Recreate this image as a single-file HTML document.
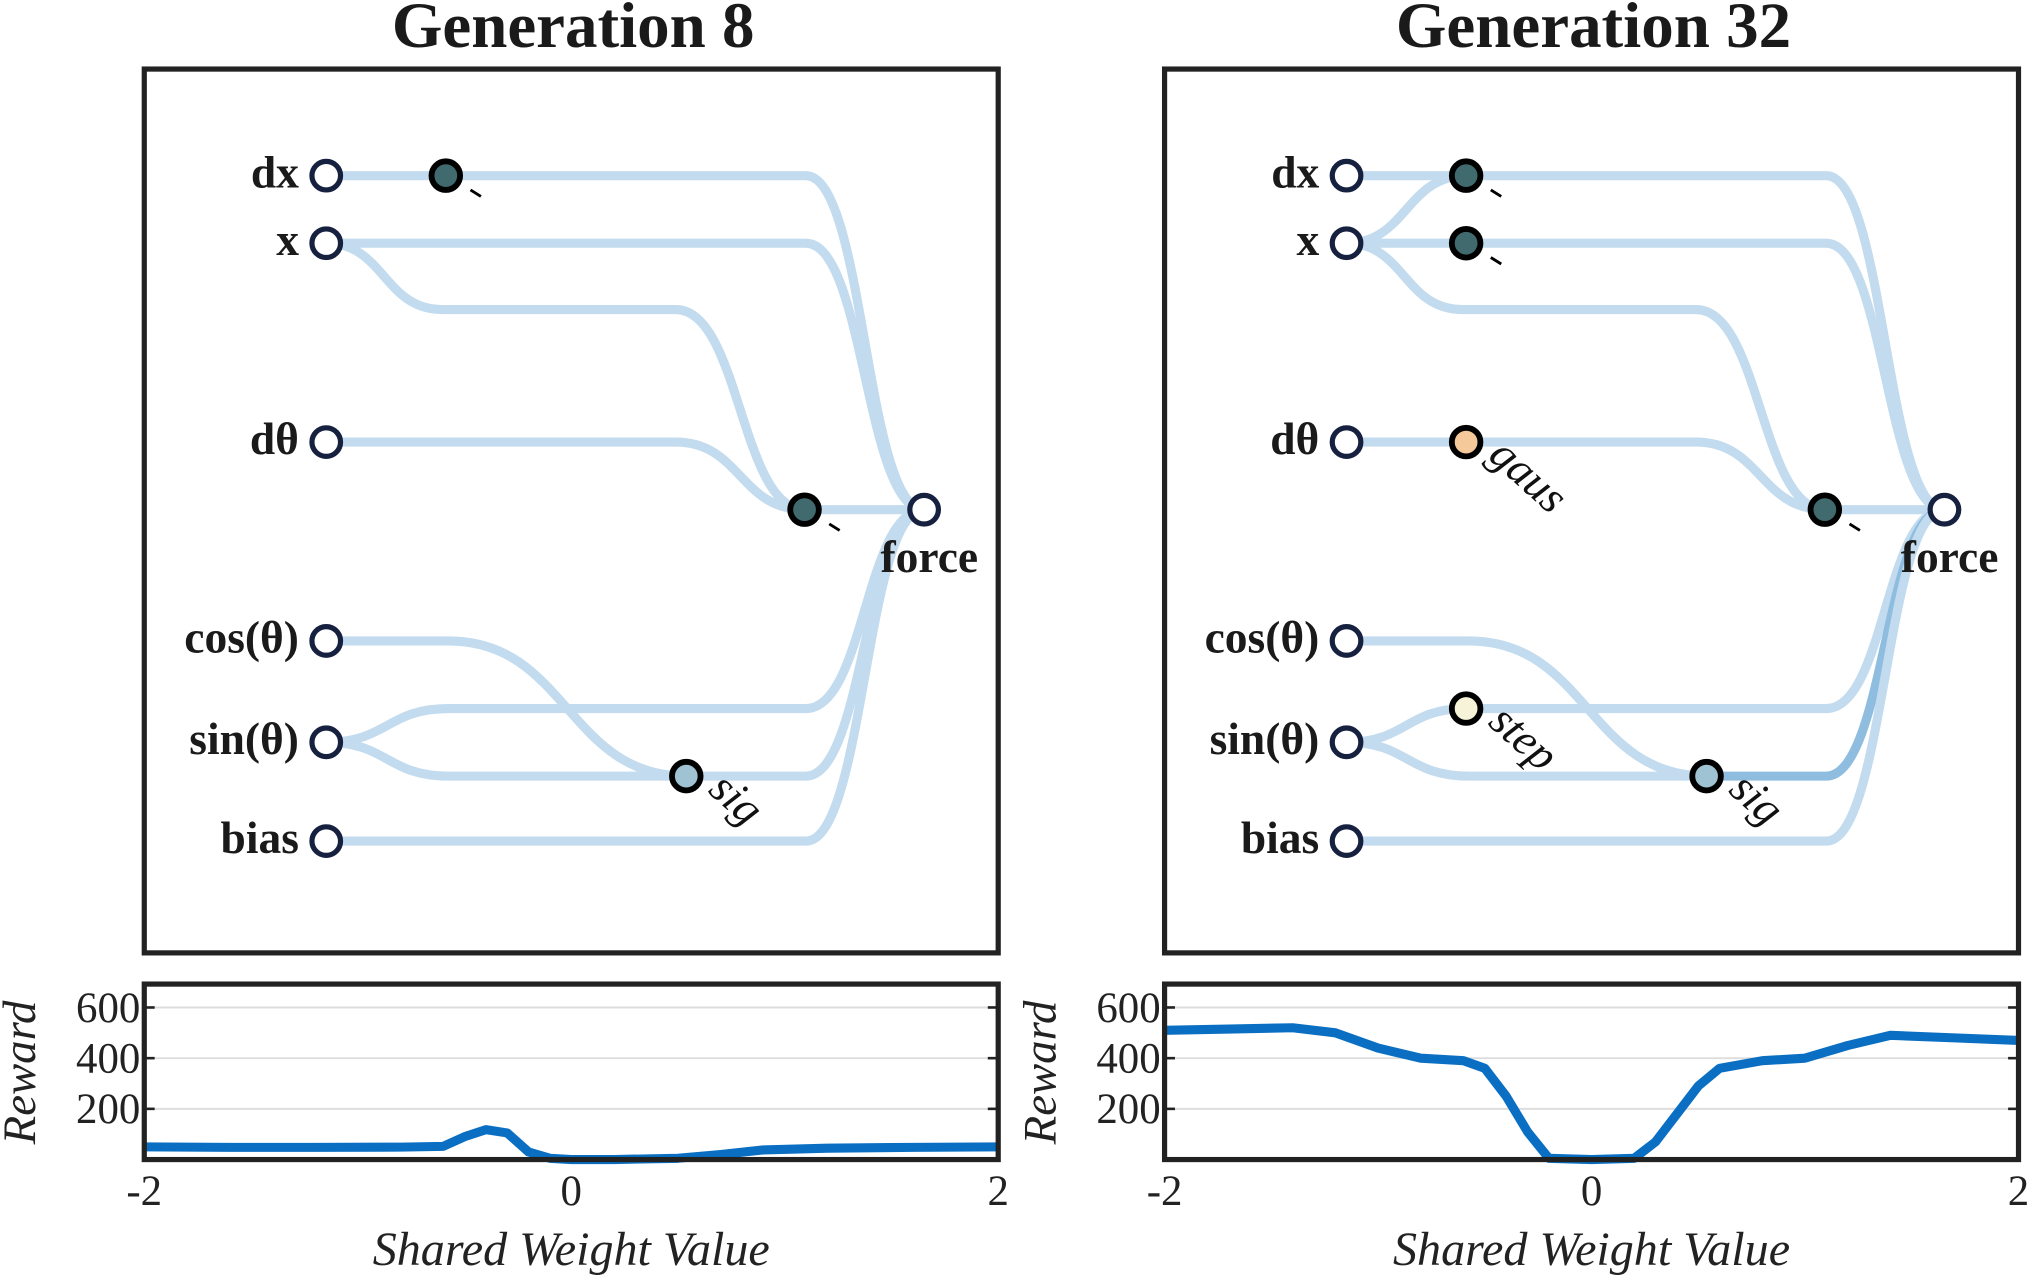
<!DOCTYPE html>
<html><head><meta charset="utf-8">
<style>html,body{margin:0;padding:0;background:#fff}svg{display:block}</style></head>
<body>
<svg id="fig" width="2038" height="1278" viewBox="0 0 1568 983" xmlns="http://www.w3.org/2000/svg" font-family="'Liberation Serif', serif"></svg>
<script>
const xs = [-2,-1.6,-1.2,-0.8,-0.6,-0.5,-0.4,-0.3,-0.2,-0.1,0,0.2,0.5,0.7,0.9,1.2,1.6,2];
const gen8 = [50,48,48,49,52,90,118,105,30,5,0,0,5,20,38,45,48,50];
const xs32 = [-2,-1.7,-1.4,-1.2,-1,-0.8,-0.6,-0.5,-0.4,-0.3,-0.2,0,0.2,0.3,0.4,0.5,0.6,0.8,1,1.2,1.4,1.7,2];
const gen32 = [510,515,520,500,440,400,390,360,250,110,5,0,5,70,180,290,360,390,400,450,490,480,470];
const yTicks = [200,400,600];
const xTicks = [-2,0,2];
const S='http://www.w3.org/2000/svg', svg=document.getElementById('fig');
function el(t,a,p){const e=document.createElementNS(S,t);for(const k in a)e.setAttribute(k,a[k]);(p||svg).appendChild(e);return e;}
function txt(s,a,p){const e=el('text',a,p);e.textContent=s;return e;}
const edgeC='#c2dbee';
function seg(x1,y1,x2,y2){const d=(x2-x1)/2;return `M${x1},${y1} C${x1+d},${y1} ${x2-d},${y2} ${x2},${y2}`;}
function drawPanel(off,title,hidden,edges){
  const g=el('g',{});
  
  
  const t=txt(title,{x:111+off+330,y:36,'text-anchor':'middle','font-size':50,'font-weight':'bold',fill:'#1a1a1a'},g);
  
  
  const b=el('rect',{x:111+off,y:53,width:657,height:680,fill:'none',stroke:'#222',"stroke-width":4},g);
  
  
  const eg=el('g',{fill:'none',stroke:edgeC,'stroke-width':7,'stroke-linecap':'round'},g);
  
  
  edges.forEach(e=>{let d='';for(let i=0;i<e.length-1;i++){const a=e[i],c=e[i+1];d+=seg(a[0]+off,a[1],c[0]+off,c[1]).replace(i?/^M[^C]*/:/$^/,'')+' ';}
    const p=el('path',{d:d,stroke:e.dark?'#8fbde0':edgeC},eg);
    
    });
  const inputs=[['dx',135],['x',187],['dθ',340],['cos(θ)',493],['sin(θ)',571],['bias',647]];
  inputs.forEach(([n,y])=>{
    const c=el('circle',{cx:251+off,cy:y,r:11,fill:'#fff',stroke:'#16203f','stroke-width':4},g);
    
    
    const l=txt(n,{x:230+off,y:y+9,'text-anchor':'end','font-size':35,'font-weight':'bold',fill:'#1a1a1a'},g);
    
    
  });
  hidden.forEach(h=>{
    const c=el('circle',{cx:h[0]+off,cy:h[1],r:11,fill:h[2],stroke:'#000','stroke-width':4.5},g);
    
    
    if(h[3]==='neg'){const l=el('line',{x1:h[0]+off+19,y1:h[1]+11,x2:h[0]+off+27,y2:h[1]+16,stroke:'#000','stroke-width':2.2},g);
      
      }
    else{const l=txt(h[3],{x:0,y:0,'font-size':35,'font-style':'italic',fill:'#111',transform:`translate(${h[0]+off+16},${h[1]+12}) rotate(42)`},g);
      
      }
  });
  const o=el('circle',{cx:711+off,cy:392,r:11,fill:'#fff',stroke:'#16203f','stroke-width':4},g);
  
  
  const ol=txt('force',{x:715+off,y:440,'text-anchor':'middle','font-size':35,'font-weight':'bold',fill:'#1a1a1a'},g);
  
  
}
const O=[711,392];
drawPanel(0,'Generation 8',[[343,135,'#416a6e','neg'],[619,392,'#416a6e','neg'],[528,597,'#9fc3d3','sig']],[
 [[251,135],[343,135]],[[343,135],[620,135],O],[[251,187],[620,187],O],
 [[251,187],[340,238],[520,238],[619,392]],[[251,340],[520,340],[619,392]],[[619,392],O],
 [[251,493],[345,493],[528,597]],[[251,571],[345,545],[620,545],O],[[251,571],[345,597],[528,597]],
 [[528,597],[620,597],O],[[251,647],[620,647],O]]);
const s2=[[528,597],[620,597],O];s2.dark=true;
drawPanel(785,'Generation 32',[[343,135,'#416a6e','neg'],[343,187,'#416a6e','neg'],[343,340,'#f6c99b','gaus'],[343,545,'#f6f3d8','step'],[619,392,'#416a6e','neg'],[528,597,'#9fc3d3','sig']],[
 [[251,135],[343,135]],[[251,187],[343,135]],[[251,187],[343,187]],[[343,135],[620,135],O],[[343,187],[620,187],O],
 [[251,187],[340,238],[520,238],[619,392]],[[251,340],[343,340],[520,340],[619,392]],[[619,392],O],
 [[251,493],[345,493],[528,597]],[[251,571],[343,545],[620,545],O],[[251,571],[345,597],[528,597]],
 s2,[[251,647],[620,647],O]]);

function reward(off,X,Y,name){
  const g=el('g',{});
  
  
  const x0=111+off,w=657,y0=757,h=135;
  const sx=v=>x0+(v+2)/4*w, sy=v=>y0+h-v*0.195;
  yTicks.forEach(t=>{const l=el('line',{x1:x0,x2:x0+w,y1:sy(t),y2:sy(t),stroke:'#ddd','stroke-width':1.5},g);
    
    
    const tl=txt(t,{x:x0-3,y:sy(t)+11,'text-anchor':'end','font-size':33,fill:'#222'},g);
    
    
    [x0,x0+w].forEach(xx=>{const tk=el('line',{x1:xx,x2:xx+(xx===x0?8:-8),y1:sy(t),y2:sy(t),stroke:'#222','stroke-width':2},g);
      
      });});
  xTicks.forEach(t=>{const tl=txt(t,{x:sx(t),y:927,'text-anchor':'middle','font-size':33,fill:'#222'},g);
    
    });
  const d=X.map((v,i)=>(i?'L':'M')+sx(v)+','+sy(Y[i])).join(' ');
  const p=el('path',{d:d,fill:'none',stroke:'#0a6fc2','stroke-width':7,'stroke-linejoin':'round'},g);
  
  
  const r=el('rect',{x:x0,y:y0,width:w,height:h,fill:'none',stroke:'#222','stroke-width':4},g);
  
  
  const yl=txt('Reward',{x:0,y:0,'font-size':36,'font-style':'italic',fill:'#222','text-anchor':'middle',transform:`translate(${x0-84},${y0+68}) rotate(-90)`},g);
  
  
  const xl=txt('Shared Weight Value',{x:x0+w/2,y:973,'font-size':37,'font-style':'italic',fill:'#222','text-anchor':'middle'},g);
  
  
}
reward(0,xs,gen8,'reward-chart-gen8');
reward(785,xs32,gen32,'reward-chart-gen32');
</script>
</body></html>
